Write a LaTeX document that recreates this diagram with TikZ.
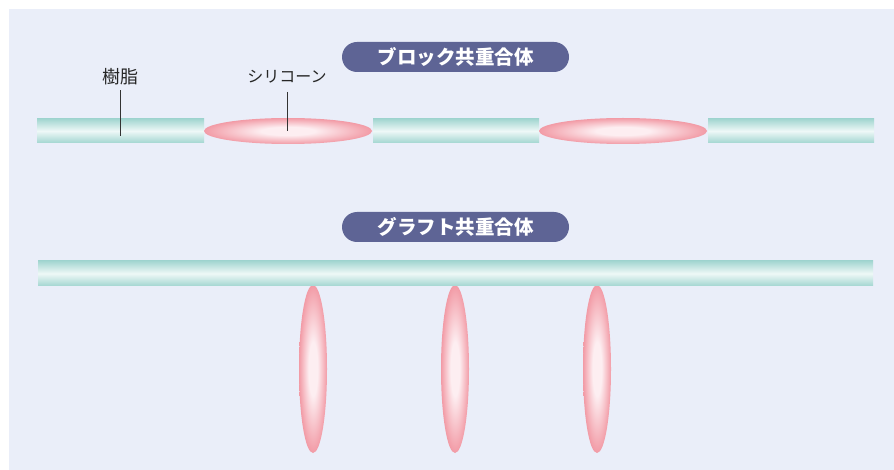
\documentclass[tikz,border=0pt]{standalone}
\usepackage{fontspec}
\newfontfamily\jp{Noto Sans CJK JP}
\usetikzlibrary{shapes.geometric}
\definecolor{bgc}{HTML}{EAEEF9}
\definecolor{pillc}{HTML}{5E6495}
\definecolor{tealedge}{HTML}{A3D6D1}
\definecolor{tealmid}{HTML}{EEF8F7}
\definecolor{pinkedge}{HTML}{F29BA6}
\definecolor{pinkmid}{HTML}{FDEEF1}
\definecolor{leader}{HTML}{333333}
\pgfdeclareradialshading{blobshade}{\pgfpoint{0bp}{0bp}}{color(0bp)=(pinkmid); color(8bp)=(pinkmid); color(25bp)=(pinkedge); color(50bp)=(pinkedge)}
\tikzset{
  bar/.style={rectangle, inner sep=0pt, minimum height=24pt, shade, top color=tealedge, bottom color=tealedge, middle color=tealmid},
  hblob/.style={ellipse, inner sep=0pt, minimum width=168pt, minimum height=26pt, shade, shading=blobshade},
  vblob/.style={ellipse, inner sep=0pt, minimum width=28pt, minimum height=168pt, shade, shading=blobshade},
  pill/.style={rectangle, rounded corners=15pt, fill=pillc, minimum width=227pt, minimum height=30pt, inner sep=0pt, text=white, font=\jp\bfseries\fontsize{19.5}{19.5}\selectfont},
  lbl/.style={inner sep=0pt, text=black!85, font=\jp\fontsize{18}{18}\selectfont},
  leadline/.style={draw=leader, line width=1pt}
}
\begin{document}
\begin{tikzpicture}[x=1pt,y=-1pt]
\useasboundingbox (0,0) rectangle (894,470);
\fill[white] (0,0) rectangle (894,470);
\fill[bgc] (9,9) rectangle (894,470);
% block copolymer
\node[pill] (p1) at (455.5,57) {ブロック共重合体};
\node[bar, minimum width=167pt] (b1) at (120.5,131) {};
\node[hblob] (e1) at (288,131) {};
\node[bar, minimum width=166pt] (b2) at (456,131) {};
\node[hblob] (e2) at (623,131) {};
\node[bar, minimum width=166pt] (b3) at (791,131) {};
\node[lbl] (l1) at (120,77) {樹脂};
\node[lbl, font=\jp\fontsize{16}{16}\selectfont] (l2) at (287,77) {シリコーン};
\draw[leadline] ([yshift=-5pt]l1.south) -- ([yshift=-5pt]l1.south |- b1.center);
\draw[leadline] (l2.south |- 0,92) -- (l2.south |- e1.center);
% graft copolymer
\node[pill] (p2) at (455.5,227) {グラフト共重合体};
\node[vblob] (v1) at (313,369) {};
\node[vblob] (v2) at (455,369) {};
\node[vblob] (v3) at (597,369) {};
\node[bar, minimum width=835pt, minimum height=25pt] (b4) at (455.5,273.5) {};
\end{tikzpicture}
\end{document}
